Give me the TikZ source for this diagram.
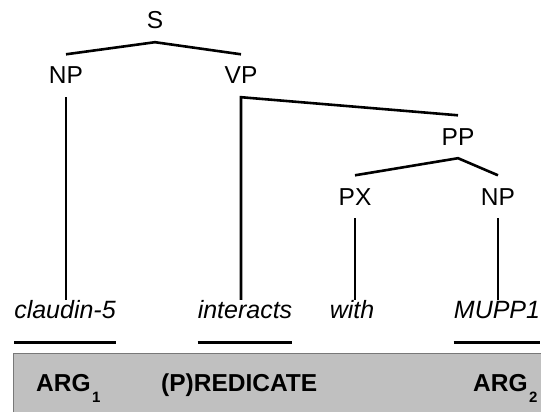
\documentclass[tikz,border=0pt]{standalone}
\usepackage{fontspec}
\setmainfont{Liberation Sans}

\definecolor{boxgray}{RGB}{192,192,192}
\definecolor{boxedge}{RGB}{120,120,120}

% lowered index after a role label
\newcommand{\lowsub}[1]{\kern1.5pt\raisebox{-11pt}{\fontsize{15}{15}\selectfont #1}}

\tikzset{
  cat/.style={inner xsep=0pt, inner ysep=12pt, text height=17.5pt, text depth=1pt,
    anchor=base, font=\fontsize{24.5}{24.5}\selectfont},
  word/.style={inner sep=0pt, text height=18pt, text depth=0pt, anchor=base,
    font=\fontsize{25}{25}\selectfont\itshape},
  role/.style={inner sep=0pt, anchor=base west, font=\fontsize{24.5}{24.5}\selectfont\bfseries},
  branch/.style={line width=2.6pt},
  uline/.style={line width=3pt}
}

\begin{document}
\begin{tikzpicture}[x=1pt, y=-1pt]
\useasboundingbox (0,0) rectangle (541,412);

% shaded band with the roles
\draw[fill=boxgray, draw=boxedge, line width=1pt] (13,353) rectangle (560,430);

% tree labels
\node[cat] (S) at (155,29) {S};
\node[cat] (NPa) at (66,84) {NP};
\node[cat] (VP) at (241,84) {VP};
\node[cat] (PP) at (458,145) {PP};
\node[cat] (PX) at (355,205) {PX};
\node[cat] (NPb) at (498,205) {NP};

% words
\node[word] (w1) at (65,318) {claudin-5};
\node[word] (w2) at (245,318) {interacts};
\node[word] (w3) at (352,318) {with};
\node[word] (w4) at (497,318) {MUPP1};

% roles
\node[role] (arg1) at (36,391) {ARG\lowsub{1}};
\node[role] (pred) at (161,391) {(P)REDICATE};
\node[role] (arg2) at (473,391) {ARG\lowsub{2}};

% branches
\draw[branch] (NPa.north) -- (S.south) -- (VP.north);
\draw[branch] (PX.north) -- (PP.south) -- (NPb.north);
\draw[branch] (PP.north) -- (VP.south) -- (VP.south |- w2.north);
\draw[branch] (NPa.south) -- (NPa.south |- w1.north);
\draw[branch] (PX.south) -- (PX.south |- w3.north);
\draw[branch] (NPb.south) -- (NPb.south |- w4.north);

% underlines for the marked words
\foreach \w in {w1,w2,w4}
  \draw[uline] ([yshift=-24pt]\w.base west) -- ([yshift=-24pt]\w.base east);
\end{tikzpicture}
\end{document}
